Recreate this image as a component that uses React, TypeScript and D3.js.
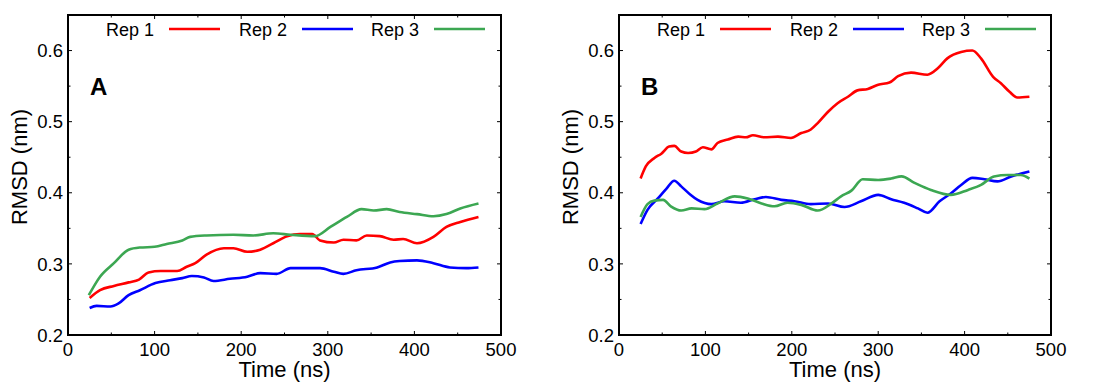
import React from 'react';
import * as d3 from 'd3';

// Panel A (Rep 1 / Rep 2 / Rep 3)
const timeA1 = [25, 37, 53, 70, 82, 93, 107, 126, 137, 147, 160, 180, 191, 207, 222, 237, 253, 268, 282, 291, 307, 318, 333, 345, 360, 376, 387, 403, 422, 437, 453, 474];
const rmsdA1 = [0.252, 0.263, 0.269, 0.274, 0.278, 0.288, 0.290, 0.290, 0.296, 0.301, 0.313, 0.322, 0.322, 0.317, 0.320, 0.329, 0.339, 0.342, 0.342, 0.333, 0.330, 0.334, 0.333, 0.340, 0.339, 0.334, 0.335, 0.329, 0.338, 0.352, 0.359, 0.366];
const timeA2 = [25, 33, 49, 58, 70, 83, 101, 118, 132, 143, 157, 168, 187, 207, 222, 241, 257, 272, 291, 307, 318, 333, 357, 372, 383, 403, 422, 441, 460, 474];
const rmsdA2 = [0.238, 0.241, 0.240, 0.244, 0.256, 0.263, 0.273, 0.277, 0.280, 0.283, 0.281, 0.276, 0.279, 0.282, 0.287, 0.286, 0.294, 0.294, 0.294, 0.289, 0.286, 0.291, 0.295, 0.302, 0.304, 0.305, 0.301, 0.295, 0.294, 0.295];
const timeA3 = [24, 37, 53, 70, 83, 100, 114, 132, 141, 160, 191, 214, 237, 257, 285, 303, 322, 339, 353, 368, 383, 403, 422, 437, 453, 474];
const rmsdA3 = [0.256, 0.282, 0.301, 0.320, 0.323, 0.324, 0.328, 0.333, 0.338, 0.340, 0.341, 0.340, 0.343, 0.341, 0.339, 0.352, 0.366, 0.377, 0.375, 0.377, 0.373, 0.370, 0.367, 0.370, 0.378, 0.385];

// Panel B
const timeB1 = [25, 31, 41, 49, 58, 64, 72, 80, 89, 97, 107, 114, 126, 138, 147, 155, 168, 184, 199, 211, 222, 230, 242, 253, 265, 276, 288, 300, 313, 323, 338, 357, 369, 380, 396, 409, 419, 433, 442, 452, 461, 475];
const rmsdB1 = [0.420, 0.437, 0.449, 0.455, 0.465, 0.466, 0.458, 0.456, 0.458, 0.464, 0.461, 0.470, 0.475, 0.479, 0.478, 0.481, 0.478, 0.479, 0.477, 0.484, 0.489, 0.498, 0.514, 0.526, 0.535, 0.544, 0.546, 0.552, 0.555, 0.564, 0.569, 0.566, 0.575, 0.589, 0.598, 0.600, 0.589, 0.563, 0.554, 0.542, 0.534, 0.535];
const timeB2 = [25, 33, 45, 55, 64, 72, 82, 91, 107, 122, 141, 157, 170, 188, 203, 222, 242, 261, 280, 300, 315, 330, 346, 357, 371, 384, 396, 409, 423, 438, 454, 475];
const rmsdB2 = [0.356, 0.376, 0.392, 0.406, 0.417, 0.409, 0.398, 0.390, 0.384, 0.388, 0.386, 0.391, 0.394, 0.390, 0.388, 0.384, 0.385, 0.380, 0.388, 0.397, 0.391, 0.386, 0.378, 0.372, 0.388, 0.399, 0.411, 0.421, 0.419, 0.416, 0.423, 0.430];
const timeB3 = [25, 33, 41, 51, 60, 72, 84, 99, 114, 134, 149, 165, 180, 195, 211, 230, 246, 257, 269, 282, 300, 315, 327, 342, 361, 384, 404, 419, 434, 450, 465, 475];
const rmsdB3 = [0.366, 0.384, 0.389, 0.390, 0.381, 0.375, 0.378, 0.377, 0.385, 0.395, 0.392, 0.385, 0.381, 0.386, 0.383, 0.375, 0.385, 0.395, 0.403, 0.419, 0.418, 0.420, 0.423, 0.414, 0.404, 0.397, 0.404, 0.411, 0.423, 0.425, 0.425, 0.420];

const repNames = ['Rep 1', 'Rep 2', 'Rep 3'];
const repColors = ['#ff0000', '#0000ff', '#3ca752'];
const xTicks = [0, 100, 200, 300, 400, 500];
const yTicks = [0.2, 0.3, 0.4, 0.5, 0.6];

const FONT = '"Liberation Sans", Arial, sans-serif';

type PanelProps = {
  left: number;
  right: number;
  tag: string;
  series: { t: number[]; v: number[] }[];
};

const Panel: React.FC<PanelProps> = ({ left, right, tag, series }) => {
  const top = 15, bottom = 335;
  const x = d3.scaleLinear().domain([0, 500]).range([left, right]);
  const y = d3.scaleLinear().domain([0.2, 0.65]).range([bottom, top]);
  const line = d3.line<[number, number]>()
    .x(d => x(d[0]))
    .y(d => y(d[1]))
    .curve(d3.curveMonotoneX);

  const xMinor = d3.range(50, 500, 100);
  const yMinor = d3.range(0.25, 0.65, 0.1);

  // legend positions relative to plot left
  const legendText = [38, 171, 303];

  return (
    <g>
      {series.map((s, i) => (
        <path key={i} d={line(s.t.map((t, k) => [t, s.v[k]] as [number, number])) || ''}
          fill="none" stroke={repColors[i]} strokeWidth={2.6} strokeLinejoin="round" />
      ))}
      {/* ticks, inward, on all four sides */}
      {xTicks.map(t => (
        <g key={'xt' + t}>
          <line x1={x(t)} x2={x(t)} y1={bottom} y2={bottom - 4} stroke="#000" strokeWidth={1} />
          <line x1={x(t)} x2={x(t)} y1={top} y2={top + 4} stroke="#000" strokeWidth={1} />
          <text x={x(t)} y={356} textAnchor="middle" fontSize={18.5}>{t}</text>
        </g>
      ))}
      {xMinor.map(t => (
        <g key={'xm' + t}>
          <line x1={x(t)} x2={x(t)} y1={bottom} y2={bottom - 2.5} stroke="#000" strokeWidth={1} />
          <line x1={x(t)} x2={x(t)} y1={top} y2={top + 2.5} stroke="#000" strokeWidth={1} />
        </g>
      ))}
      {yTicks.map(v => (
        <g key={'yt' + v}>
          <line x1={left} x2={left + 4} y1={y(v)} y2={y(v)} stroke="#000" strokeWidth={1} />
          <line x1={right} x2={right - 4} y1={y(v)} y2={y(v)} stroke="#000" strokeWidth={1} />
          <text x={left - 5} y={y(v)} dy="0.36em" textAnchor="end" fontSize={18.5}>{v.toFixed(1)}</text>
        </g>
      ))}
      {yMinor.map(v => (
        <g key={'ym' + v}>
          <line x1={left} x2={left + 2.5} y1={y(v)} y2={y(v)} stroke="#000" strokeWidth={1} />
          <line x1={right} x2={right - 2.5} y1={y(v)} y2={y(v)} stroke="#000" strokeWidth={1} />
        </g>
      ))}
      <rect x={left} y={top} width={right - left} height={bottom - top} fill="none" stroke="#000" strokeWidth={2} />
      {repNames.map((n, i) => (
        <g key={n}>
          <text x={left + legendText[i]} y={36} fontSize={18}>{n}</text>
          <line x1={left + legendText[i] + 63} x2={left + legendText[i] + 114} y1={29} y2={29}
            stroke={repColors[i]} strokeWidth={2.6} />
        </g>
      ))}
      <text x={left + 22} y={95} fontSize={24} fontWeight="bold">{tag}</text>
      <text transform={`translate(${left - 41},167) rotate(-90)`} textAnchor="middle" fontSize={22}>RMSD (nm)</text>
      <text x={(left + right) / 2} y={377} textAnchor="middle" fontSize={22}>Time (ns)</text>
    </g>
  );
};

export default function App() {
  return (
    <svg width={1096} height={383} style={{ position: 'absolute', left: 0, top: 0, background: '#fff' }}
      fontFamily={FONT}>
      <rect width={1096} height={383} fill="#fff" />
      <Panel left={68} right={501} tag="A" series={[
        { t: timeA1, v: rmsdA1 }, { t: timeA2, v: rmsdA2 }, { t: timeA3, v: rmsdA3 },
      ]} />
      <Panel left={619} right={1051} tag="B" series={[
        { t: timeB1, v: rmsdB1 }, { t: timeB2, v: rmsdB2 }, { t: timeB3, v: rmsdB3 },
      ]} />
    </svg>
  );
}
